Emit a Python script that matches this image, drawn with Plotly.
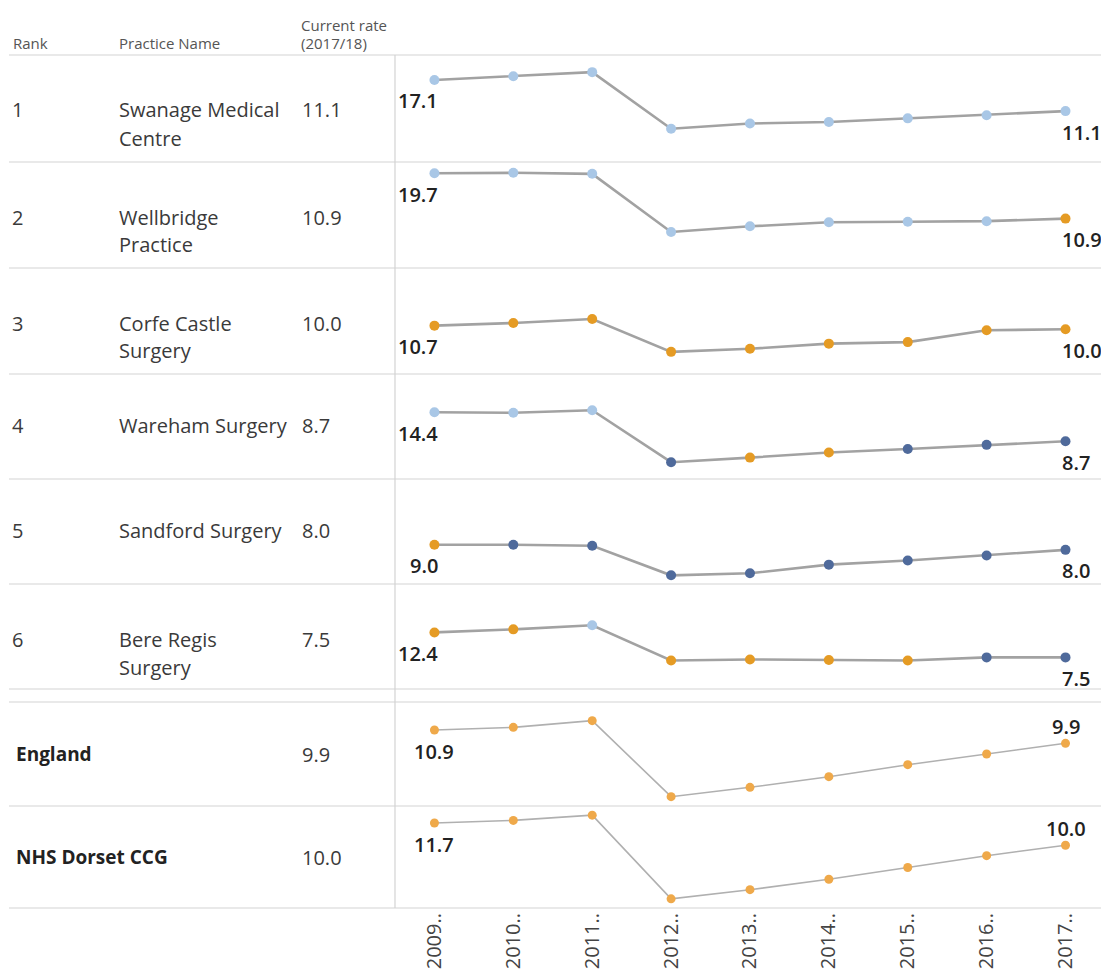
import plotly.graph_objects as go

# ---------------- data ----------------
years = ["2009..", "2010..", "2011..", "2012..", "2013..", "2014..", "2015..", "2016..", "2017.."]

ranks = ["1", "2", "3", "4", "5", "6"]
practice_names = [
    "Swanage Medical\nCentre",
    "Wellbridge\nPractice",
    "Corfe Castle\nSurgery",
    "Wareham Surgery",
    "Sandford Surgery",
    "Bere Regis\nSurgery",
]
current_rates = ["11.1", "10.9", "10.0", "8.7", "8.0", "7.5"]

swanage = [17.1, 17.8, 18.6, 7.7, 8.7, 9.0, 9.7, 10.3, 11.1]
wellbridge = [19.7, 19.8, 19.6, 8.3, 9.4, 10.2, 10.3, 10.4, 10.9]
corfe = [10.7, 11.2, 12.0, 5.6, 6.2, 7.2, 7.5, 9.8, 10.0]
wareham = [14.4, 14.3, 14.8, 4.6, 5.5, 6.5, 7.2, 8.0, 8.7]
sandford = [9.0, 9.0, 8.8, 3.0, 3.4, 5.1, 5.9, 6.9, 8.0]
bere_regis = [12.4, 13.0, 13.8, 6.9, 7.1, 7.0, 6.9, 7.5, 7.5]

swanage_sig = ["H", "H", "H", "H", "H", "H", "H", "H", "H"]
wellbridge_sig = ["H", "H", "H", "H", "H", "H", "H", "H", "S"]
corfe_sig = ["S", "S", "S", "S", "S", "S", "S", "S", "S"]
wareham_sig = ["H", "H", "H", "L", "S", "S", "L", "L", "L"]
sandford_sig = ["S", "L", "L", "L", "L", "L", "L", "L", "L"]
bere_regis_sig = ["S", "S", "H", "S", "S", "S", "S", "L", "L"]

benchmark_names = ["England", "NHS Dorset CCG"]
benchmark_rates = ["9.9", "10.0"]
england = [10.9, 11.1, 11.6, 5.9, 6.6, 7.4, 8.3, 9.1, 9.9]
dorset_ccg = [11.7, 11.9, 12.3, 5.9, 6.6, 7.4, 8.3, 9.2, 10.0]

# ---------------- styling ----------------
W, H = 1101, 974
sig_colors = {"H": "#a9c7e6", "S": "#e59b24", "L": "#4f6a9b", "B": "#efa94a"}
row_px = [(55, 162), (162, 268), (268, 374), (374, 479), (479, 584), (584, 689), (702, 806), (806, 908)]
x_left_px = 395
practice_range = [1.3, 21.9]
bench_range = [5.2, 13.0]
FONT = "Open Sans"


def py(p):
    return 1 - p / H


def px(p):
    return p / W


series = [swanage, wellbridge, corfe, wareham, sandford, bere_regis, england, dorset_ccg]
sigs = [swanage_sig, wellbridge_sig, corfe_sig, wareham_sig, sandford_sig, bere_regis_sig,
        ["B"] * 9, ["B"] * 9]

fig = go.Figure()
layout = dict()
annotations = []
label_font = dict(family=FONT, size=20, color="#222222", weight=600)

for i, (vals, sg) in enumerate(zip(series, sigs)):
    k = i + 1
    bench = i >= 6
    n = len(vals)
    fig.add_trace(go.Scatter(
        x=years, y=vals, mode="lines+markers",
        line=dict(color="#b0b0b0" if bench else "#a2a2a2", width=1.6 if bench else 2.6),
        marker=dict(color=[sig_colors[s] for s in sg], size=9 if bench else 10),
        cliponaxis=False, showlegend=False, hoverinfo="x+y",
        xaxis=f"x{k}", yaxis=f"y{k}",
    ))
    # first / last value labels anchored on the data points
    if bench:
        annotations.append(dict(xref=f"x{k}", yref=f"y{k}", x=0, y=vals[0],
                                text=f"{vals[0]:.1f}", showarrow=False, xanchor="center",
                                yanchor="middle", yshift=-21, font=label_font))
        annotations.append(dict(xref=f"x{k}", yref=f"y{k}", x=n - 1, y=vals[-1],
                                text=f"{vals[-1]:.1f}", showarrow=False, xanchor="center",
                                yanchor="middle", yshift=17, font=label_font))
    else:
        annotations.append(dict(xref=f"x{k}", yref=f"y{k}", x=0, y=vals[0],
                                text=f"{vals[0]:.1f}", showarrow=False, xanchor="right",
                                yanchor="middle", xshift=6, yshift=-21, font=label_font))
        annotations.append(dict(xref=f"x{k}", yref=f"y{k}", x=n - 1, y=vals[-1],
                                text=f"{vals[-1]:.1f}", showarrow=False, xanchor="left",
                                yanchor="middle", xshift=-6, yshift=-21, font=label_font))
    top, bot = row_px[i]
    suffix = "" if k == 1 else str(k)
    layout[f"xaxis{suffix}"] = dict(
        domain=[px(x_left_px), 1.0], anchor=f"y{k}", type="category",
        categoryorder="array", categoryarray=years,
        range=[-0.5, 8.45], showgrid=False, zeroline=False, showline=False,
        showticklabels=(k == 8), tickangle=-90, ticks="",
        tickfont=dict(family=FONT, size=20, color="#444444"),
    )
    layout[f"yaxis{suffix}"] = dict(
        domain=[py(bot), py(top)], anchor=f"x{k}",
        range=bench_range if bench else practice_range,
        visible=False, fixedrange=True,
    )

shapes = []
for yy in [55, 162, 268, 374, 479, 584, 689, 702, 806, 908]:
    shapes.append(dict(type="line", xref="paper", yref="paper", x0=px(9), x1=1.0,
                       y0=py(yy), y1=py(yy), line=dict(color="#d3d3d3", width=1.2)))
shapes.append(dict(type="line", xref="paper", yref="paper", x0=px(x_left_px), x1=px(x_left_px),
                   y0=py(55), y1=py(908), line=dict(color="#d3d3d3", width=1.2)))


def add_text(x, y, text, size, color="#3a3a3a", weight=400):
    annotations.append(dict(xref="paper", yref="paper", x=px(x), y=py(y), text=text,
                            xanchor="left", yanchor="middle", showarrow=False,
                            font=dict(family=FONT, size=size, color=color, weight=weight)))


# header
add_text(11, 43, "Rank", 15, "#555555")
add_text(117, 43, "Practice Name", 15, "#555555")
add_text(299, 25, "Current rate", 15, "#555555")
add_text(299, 43, "(2017/18)", 15, "#555555")

for i in range(6):
    top, _ = row_px[i]
    lines = practice_names[i].split("\n")
    first_y = top + (55 if len(lines) > 1 else 51)
    add_text(10, first_y, ranks[i], 20)
    for j, ln in enumerate(lines):
        add_text(117, first_y + 28 * j, ln, 20)
    add_text(300, first_y, current_rates[i], 20)

for j in range(2):
    top, bot = row_px[6 + j]
    cy = (top + bot) / 2
    add_text(14, cy, benchmark_names[j], 19, "#222222", 700)
    add_text(300, cy, benchmark_rates[j], 20)

fig.update_layout(
    width=W, height=H, margin=dict(l=0, r=0, t=0, b=0),
    paper_bgcolor="white", plot_bgcolor="white",
    shapes=shapes, annotations=annotations,
    font=dict(family=FONT),
    **layout,
)

fig.write_html("out.html")
